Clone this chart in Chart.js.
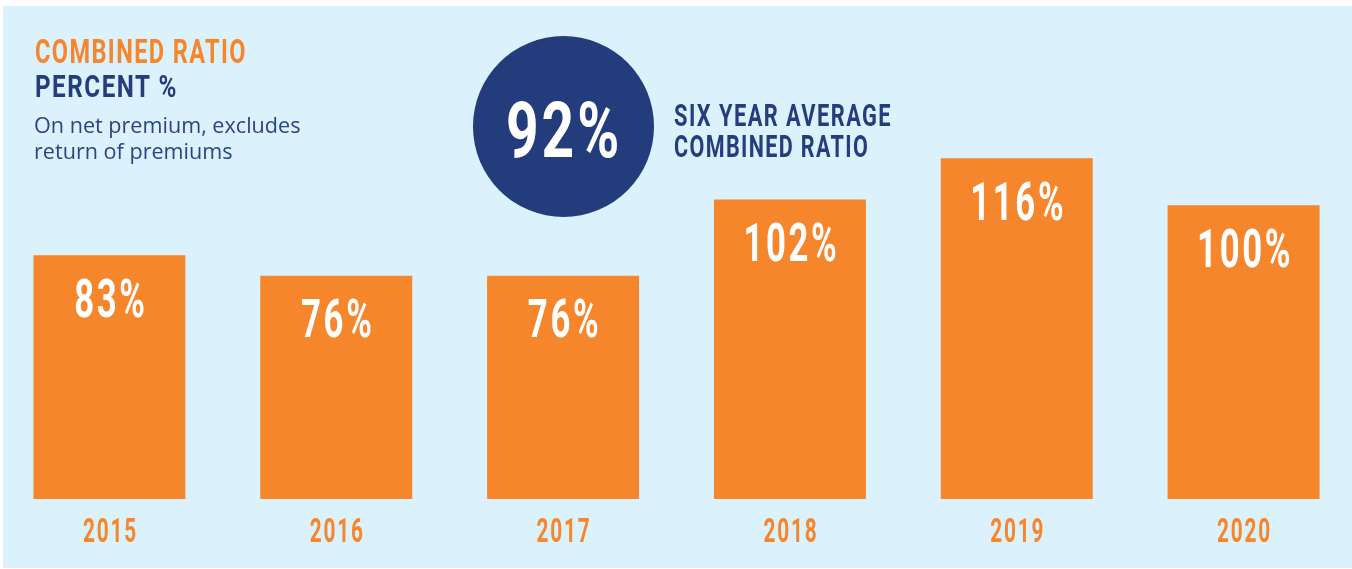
<!DOCTYPE html>
<html><head><meta charset="utf-8">
<script src="https://cdn.jsdelivr.net/npm/chart.js@4.4.1/dist/chart.umd.min.js"></script>
<style>
html,body{margin:0;padding:0;width:1352px;height:569px;overflow:hidden;background:#ffffff;}
#panel{position:absolute;left:3px;top:6px;width:1349px;height:562px;background:#dbf1fc;}
#wrap{position:absolute;left:-4px;top:0;width:1361px;height:569px;}
.t{position:absolute;white-space:nowrap;line-height:1;margin:0;transform-origin:0 0;}
.cond{font-family:Roboto,'DejaVu Sans',sans-serif;font-weight:700;}
.body{font-family:'Open Sans','Noto Sans',sans-serif;font-weight:400;}
.mk{display:inline-block;width:0;height:0;vertical-align:baseline;}
#circle{position:absolute;left:473px;top:36px;width:181px;height:181px;border-radius:50%;background:#233c7b;}
</style></head>
<body>
<div id="panel"></div>
<div id="circle"></div>
<div id="wrap"><canvas id="c" width="1361" height="569"></canvas></div>

<div class="t cond" id="h1" style="font-size:34px;color:#f5862b;letter-spacing:2px">COMBINED RATIO</div>
<div class="t cond" id="h2" style="font-size:32px;color:#233d7d;letter-spacing:2px">PERCENT %</div>
<div class="t body" id="s1" style="font-size:21.6px;color:#2b4584">On net premium, excludes</div>
<div class="t body" id="s2" style="font-size:21.6px;color:#2b4584">return of premiums</div>
<div class="t cond" id="avg" style="font-size:78px;color:#ffffff;letter-spacing:4px">92%</div>
<div class="t cond" id="a1" style="font-size:31px;color:#233d7d;letter-spacing:2px">SIX YEAR AVERAGE</div>
<div class="t cond" id="a2" style="font-size:31px;color:#233d7d;letter-spacing:2px">COMBINED RATIO</div>

<script>
// ---- data ----
const YEARS = ['2015', '2016', '2017', '2018', '2019', '2020'];
const COMBINED_RATIO = [83, 76, 76, 102, 116, 100];
const VALUE_LABELS = ['83%', '76%', '76%', '102%', '116%', '100%'];
const AVERAGE_LABEL = '92%';

const ORANGE = '#f5862b';

// ---- heading text placement (baseline-aligned, horizontally condensed) ----
function place(id, x, baseline, width, align, condense) {
  const el = document.getElementById(id);
  const mk = document.createElement('span');
  mk.className = 'mk';
  el.appendChild(mk);
  const natural = el.offsetWidth;
  const sx = condense ? width / natural : 1;
  el.style.transform = 'scaleX(' + sx + ')';
  const w = natural * sx;
  el.style.left = (align === 'center' ? x - w / 2 : x) + 'px';
  el.style.top = '0px';
  const b = mk.offsetTop;
  el.style.top = (baseline - b) + 'px';
}
document.getElementById('avg').textContent = AVERAGE_LABEL;

// ---- value + year labels drawn through the chart's scales ----
const labelPlugin = {
  id: 'barLabels',
  afterDatasetsDraw(chart) {
    const ctx = chart.ctx;
    const meta = chart.getDatasetMeta(0);
    const xs = chart.scales.x;
    ctx.save();
    ctx.textAlign = 'center';
    ctx.textBaseline = 'alphabetic';
    // values inside bars
    ctx.font = '700 53px Roboto, "DejaVu Sans", sans-serif';
    ctx.letterSpacing = '4px';
    const sv = 96 / ctx.measureText('100%').width;
    ctx.fillStyle = '#ffffff';
    meta.data.forEach((bar, i) => {
      ctx.save();
      ctx.translate(bar.x + 1.5, bar.y + 61.5);
      ctx.scale(sv, 1);
      ctx.fillText(VALUE_LABELS[i], 0, 0);
      ctx.restore();
    });
    // year labels under bars
    ctx.font = '700 34px Roboto, "DejaVu Sans", sans-serif';
    ctx.letterSpacing = '3px';
    const sy = 55 / ctx.measureText('2015').width;
    ctx.fillStyle = ORANGE;
    YEARS.forEach((y, i) => {
      ctx.save();
      ctx.translate(xs.getPixelForTick(i) + 1, 541.5);
      ctx.scale(sy, 1);
      ctx.fillText(y, 0, 0);
      ctx.restore();
    });
    ctx.restore();
  }
};

function build() {
  place('h1', 35, 63, 212, 'left', true);
  place('h2', 35, 97, 143, 'left', true);
  place('s1', 34, 133, 0, 'left', false);
  place('s2', 34, 159, 0, 'left', false);
  place('avg', 564, 157, 116, 'center', true);
  place('a1', 674, 126, 218, 'left', true);
  place('a2', 674, 157, 195, 'left', true);

  new Chart(document.getElementById('c'), {
    type: 'bar',
    data: {
      labels: YEARS,
      datasets: [{
        data: COMBINED_RATIO,
        backgroundColor: ORANGE,
        borderWidth: 0,
        barPercentage: 0.67,
        categoryPercentage: 1.0
      }]
    },
    options: {
      responsive: false,
      animation: false,
      layout: { padding: { top: 29, bottom: 70, left: 0, right: 0 } },
      scales: {
        x: { display: false, offset: true },
        y: { display: false, min: 0, max: 160 }
      },
      plugins: { legend: { display: false }, tooltip: { enabled: false } }
    },
    plugins: [labelPlugin]
  });
}
if (document.fonts && document.fonts.ready) {
  Promise.all([
    document.fonts.load('700 34px Roboto'),
    document.fonts.load('400 21px "Open Sans"')
  ]).catch(() => {}).then(build);
} else { build(); }
</script>
</body></html>
